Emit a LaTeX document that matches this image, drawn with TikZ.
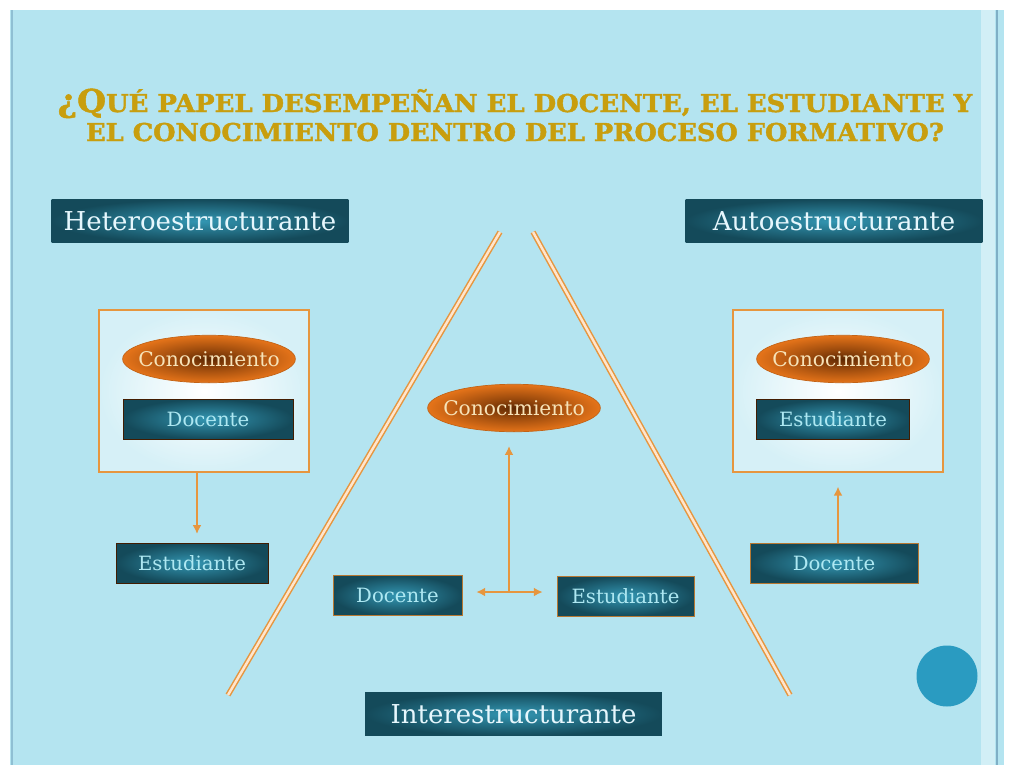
\documentclass[tikz,border=0pt]{standalone}
\usepackage{fontspec}
\setmainfont{DejaVu Serif}
\newfontfamily\titlefont{DejaVu Serif}[BoldFeatures={FakeBold=1.6}]
\usetikzlibrary{positioning}
\usetikzlibrary{arrows.meta}
\usetikzlibrary{shapes.geometric}

\definecolor{slidebg}{HTML}{B4E4F0}
\definecolor{gold}{HTML}{C89E0E}
\definecolor{tealdark}{HTML}{144A5A}
\definecolor{teallight}{HTML}{3396B2}
\definecolor{boxtext}{HTML}{AEE8F2}
\definecolor{orangeout}{HTML}{F47C1C}
\definecolor{orangein}{HTML}{5E2802}
\definecolor{creamtext}{HTML}{F7E3B8}
\definecolor{lineorange}{HTML}{E6963F}
\definecolor{dotblue}{HTML}{2A9BC1}
\definecolor{edgeblue}{HTML}{7FAFC6}

\pgfdeclareradialshading{knowglow}{\pgfpoint{0bp}{0bp}}{color(0bp)=(orangein); color(10bp)=(orangein!60!orangeout); color(28bp)=(orangeout); color(50bp)=(orangeout)}

\newcommand{\bigq}[1]{{\fontsize{16}{16}\selectfont #1}}

\begin{document}
\begin{tikzpicture}
          [
          x=0.02cm, y=-0.02cm,
          Head/.style={rectangle, shading=radial, inner color=teallight, outer color=tealdark, text=white!90!cyan, minimum width=5.94cm, minimum height=0.87cm, font=\fontsize{14.8}{15}\selectfont},
          Role/.style={rectangle, shading=radial, inner color=teallight, outer color=tealdark, draw=orangein!70!black, text=boxtext, minimum height=0.8cm, font=\fontsize{11.2}{12}\selectfont},
          Know/.style={ellipse, shading=knowglow, draw=orangeout!80!black, text=creamtext, minimum width=3.44cm, minimum height=0.95cm, inner xsep=-5.5pt, inner ysep=1pt, font=\fontsize{11.5}{12}\selectfont},
          Frame/.style={rectangle, shading=radial, inner color=white, outer color=slidebg!55!white, draw=lineorange, thick, minimum width=4.2cm, minimum height=3.24cm},
          Side/.style={draw=lineorange, double=orange!20!white, double distance=1.4pt, line width=0.85pt},
          Link/.style={draw=lineorange, thick, -{Latex[length=5pt, width=5pt]}},
          ]
          % Slide
          \useasboundingbox (0,0) rectangle (1011,765);
          \fill[white] (0,0) rectangle (1011,765);
          \fill[slidebg] (10,10) rectangle (1004,765);
          \draw[edgeblue!70!slidebg, line width=1pt] (12,10) -- (12,765);
          \fill[slidebg!60!white] (981,10) rectangle (995,765);
          \draw[edgeblue, line width=1.4pt] (997,10) -- (997,765);

          % Title
          \node[text=gold, align=center, font=\titlefont\bfseries\fontsize{12.5}{16.5}\selectfont] (Title) at (515,115)
               {\scalebox{1.18}[1.12]{\bigq{¿Q}UÉ PAPEL DESEMPEÑAN EL DOCENTE, EL ESTUDIANTE Y}\\
                \scalebox{1.17}[1.12]{EL CONOCIMIENTO DENTRO DEL PROCESO FORMATIVO?}};

          % Headers
          \node[Head] (Hetero) at (200,221) {Heteroestructurante};
          \node[Head] (Auto) at (834,221) {Autoestructurante};
          \node[Head] (Inter) at (513.5,714) {Interestructurante};

          % Triangle
          \coordinate (TopL) at (500,232);
          \coordinate (TopR) at (533,232);
          \coordinate (BotL) at (228,695);
          \coordinate (BotR) at (790,695);
          \path[Side] (TopL) -- (BotL);
          \path[Side] (TopR) -- (BotR);

          % Left side
          \node[Frame] (LFrame) at (204,391) {};
          \node[Know] (LKnow) at (209,359) {Conocimiento};
          \node[Role, minimum width=3.4cm] (LDoc) at (208,419) {Docente};
          \node[Role, minimum width=3.04cm] (LEst) at (192,563) {Estudiante};

          % Middle
          \node[Know] (MKnow) at (514,408) {Conocimiento};
          \node[Role, minimum width=2.58cm, draw=lineorange!80!black] (MDoc) at (397.5,595.5) {Docente};
          \node[Role, minimum width=2.74cm, draw=lineorange!80!black] (MEst) at (625.5,596) {Estudiante};
          \coordinate (Hub) at (509,592);

          % Right side
          \node[Frame] (RFrame) at (838,391) {};
          \node[Know] (RKnow) at (843,359) {Conocimiento};
          \node[Role, minimum width=3.06cm] (REst) at (833,419.5) {Estudiante};
          \node[Role, minimum width=3.36cm, draw=lineorange!80!black] (RDoc) at (834,563) {Docente};

          \node[circle, fill=dotblue, minimum size=1.22cm] (Dot) at (947,676) {};

          % Lines
          \path[Link] (LFrame.south -| 197,0) -- ([yshift=5pt]LEst.north -| 197,0);
          \path[Link] (Hub) -- ([yshift=-8pt]MKnow.south -| Hub);
          \path[Link, {Latex[length=5pt, width=5pt]}-{Latex[length=5pt, width=5pt]}] ([xshift=8pt]MDoc.east |- Hub) -- ([xshift=-8pt]MEst.west |- Hub);
          \path[Link] (RDoc.north -| 838,0) -- ([yshift=-8pt]RFrame.south -| 838,0);
        \end{tikzpicture}
\end{document}
